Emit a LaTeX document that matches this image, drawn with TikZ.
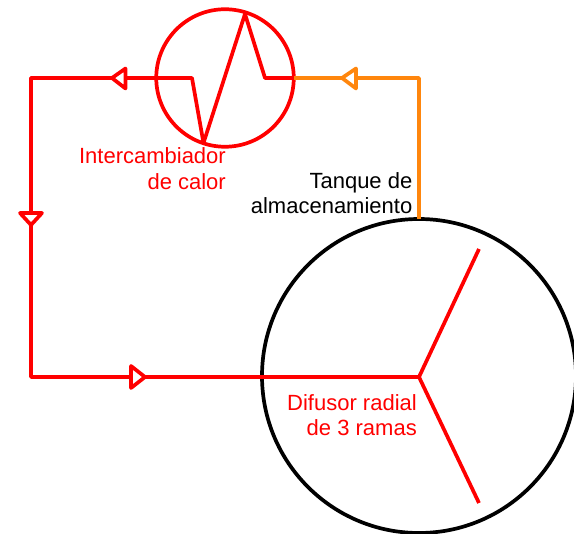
\documentclass[tikz,border=0pt]{standalone}
\usepackage{fontspec}
\setmainfont{Liberation Sans}
\definecolor{pipered}{RGB}{255,0,0}
\definecolor{pipeorange}{RGB}{255,134,13}
\tikzset{
  x=1pt,y=-1pt,
  pipe/.style={line width=3.7pt,line join=round},
  vessel/.style={circle,draw,line width=3.7pt,inner sep=0pt,outer sep=0pt},
  flowtip/.style={line width=3.7pt,fill=white,line join=round},
  lbl/.style={font=\fontsize{22}{25.5}\selectfont,align=right,inner sep=0pt,anchor=north east},
}
\begin{document}
\begin{tikzpicture}
\useasboundingbox (0,0) rectangle (574,534);
% anchors
\node[vessel,draw=pipered,minimum size=137.5pt] (hx) at (225,78) {};
\node[vessel,draw=black,minimum size=314pt] (tank) at (419,376) {};
\coordinate (hub) at (419,377);
\coordinate (armA) at (479,249);
\coordinate (armB) at (479,503);
\coordinate (zA) at (192,78);
\coordinate (zB) at (203.5,143);
\coordinate (zC) at (245,14);
\coordinate (zD) at (265,78);
\coordinate (cTL) at (31,78);
\coordinate (cBL) at (31,377);
\coordinate (cTR) at (419,78);
% pipes
\draw[pipe,pipeorange] (hx.east) -- (cTR) -- (tank.north);
\draw[pipe,pipered] (hx.west) -- (cTL) -- (cBL) -- (hub);
\draw[pipe,pipered] (armA) -- (hub) -- (armB);
\draw[pipe,pipered] (hx.west) -- (zA) -- (zB) -- (zC) -- (zD) -- (hx.east);
% flow arrows
\draw[flowtip,draw=pipered] (125.5,68.5) -- (112,78) -- (125.5,88.5) -- cycle;
\draw[flowtip,draw=pipeorange] (356,68.5) -- (342,78) -- (356,88.5) -- cycle;
\draw[flowtip,draw=pipered] (20,213) -- (31,225) -- (42,213) -- cycle;
\draw[flowtip,draw=pipered] (131,366) -- (145,377) -- (131,388) -- cycle;
% labels
\node[lbl,text=pipered] (l1) at (226,147.5) {Intercambiador\\de calor};
\node[lbl,text=black] (l2) at (412.5,172) {Tanque de\\almacenamiento};
\node[lbl,text=pipered] (l3) at (417,394) {Difusor radial\\de 3 ramas};
\end{tikzpicture}
\end{document}
